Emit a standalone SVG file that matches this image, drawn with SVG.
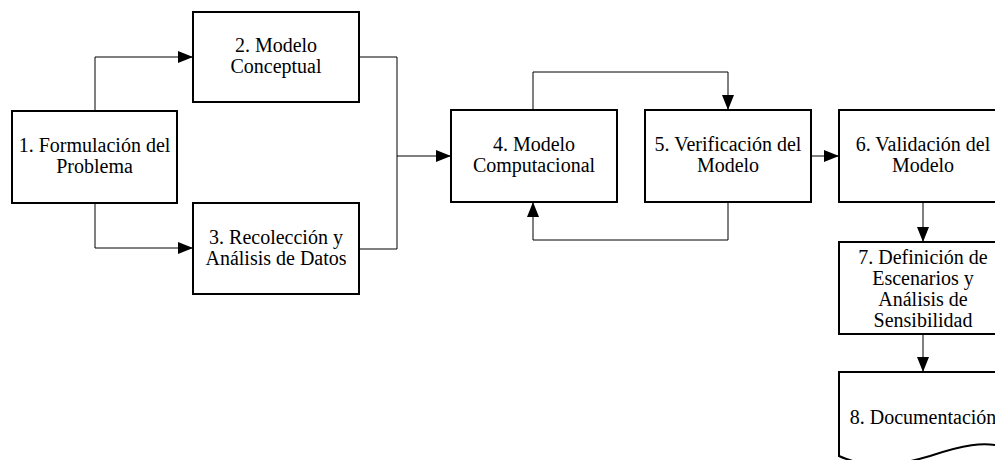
<svg xmlns="http://www.w3.org/2000/svg" width="995" height="460" viewBox="0 0 995 460">
<style>
.box{fill:#fff;stroke:#000;stroke-width:2}
.ln{fill:none;stroke:#000;stroke-width:1}
text{font-family:"Liberation Serif","Times New Roman",serif;font-size:20px;fill:#000;text-anchor:middle}
</style>
<defs>
<marker id="ah" markerWidth="15" markerHeight="12" refX="15" refY="6" orient="auto" markerUnits="userSpaceOnUse">
<path d="M0,0 L15,6 L0,12 Z" fill="#000"/>
</marker>
</defs>
<rect width="995" height="460" fill="#fff"/>
<g id="connectors">
<path class="ln" d="M95,111 V57 H193" marker-end="url(#ah)"/>
<path class="ln" d="M95,203 V248 H193" marker-end="url(#ah)"/>
<path class="ln" d="M359,57 H397 V249 H359"/>
<path class="ln" d="M397,156 H451" marker-end="url(#ah)"/>
<path class="ln" d="M533,110 V72 H728 V110" marker-end="url(#ah)"/>
<path class="ln" d="M728,202 V240 H533 V202" marker-end="url(#ah)"/>
<path class="ln" d="M811,156 H839" marker-end="url(#ah)"/>
<path class="ln" d="M923,202 V242" marker-end="url(#ah)"/>
<path class="ln" d="M923,334 V372" marker-end="url(#ah)"/>
</g>
<g id="n1"><rect class="box" x="12" y="111" width="165" height="92"/>
<text x="94.5" y="152">1. Formulación del</text><text x="94.5" y="173">Problema</text></g>
<g id="n2"><rect class="box" x="193" y="12" width="166" height="90"/>
<text x="276" y="52">2. Modelo</text><text x="276" y="73">Conceptual</text></g>
<g id="n3"><rect class="box" x="193" y="203" width="166" height="91"/>
<text x="276" y="244">3. Recolección y</text><text x="276" y="265">Análisis de Datos</text></g>
<g id="n4"><rect class="box" x="451" y="110" width="166" height="92"/>
<text x="534" y="151">4. Modelo</text><text x="534" y="172">Computacional</text></g>
<g id="n5"><rect class="box" x="645" y="110" width="166" height="92"/>
<text x="728" y="151">5. Verificación del</text><text x="728" y="172">Modelo</text></g>
<g id="n6"><rect class="box" x="839" y="110" width="168" height="92"/>
<text x="923" y="151">6. Validación del</text><text x="923" y="172">Modelo</text></g>
<g id="n7"><rect class="box" x="839" y="242" width="168" height="92"/>
<text x="923" y="264">7. Definición de</text><text x="923" y="285">Escenarios y</text><text x="923" y="306">Análisis de</text><text x="923" y="327">Sensibilidad</text></g>
<g id="n8"><path class="box" d="M839,372 H1007 V448 C985,440 960,446 930,456 C900,465 870,470 839,456 Z"/>
<text x="923" y="424">8. Documentación</text></g>
</svg>
